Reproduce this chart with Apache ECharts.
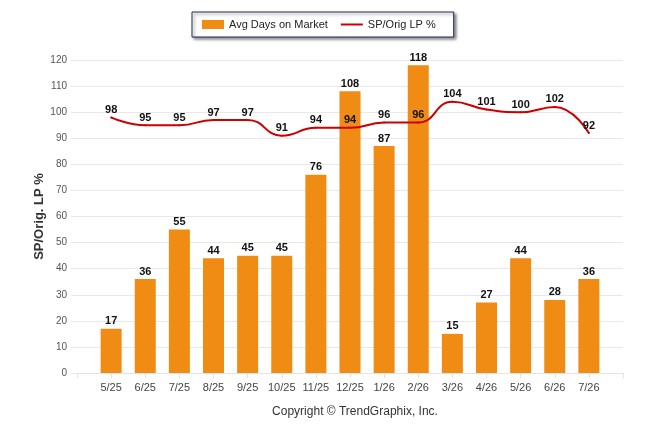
<!DOCTYPE html>
<html>
<head>
<meta charset="utf-8">
<script src="https://cdn.jsdelivr.net/npm/echarts@6/dist/echarts.min.js"></script>
<style>
  html, body { margin: 0; padding: 0; background: #fff; }
  #chartBox { width: 646px; height: 434px; }
</style>
</head>
<body>
<div id="chartBox"></div>
<script>
// months, with an empty slot at each end of the axis
var months = ['', '5/25', '6/25', '7/25', '8/25', '9/25', '10/25', '11/25', '12/25',
    '1/26', '2/26', '3/26', '4/26', '5/26', '6/26', '7/26', ''];
var avgDays = [null, 17, 36, 55, 44, 45, 45, 76, 108, 87, 118, 15, 27, 44, 28, 36, null];
var spOrigLp = [null, 98, 95, 95, 97, 97, 91, 94, 94, 96, 96, 104, 101, 100, 102, 92, null];
var yTicks = { min: 0, max: 120, interval: 10 };

function bindChart() {
    var chart = echarts.init(document.getElementById('chartBox'));
    chart.setOption(setOptionChart());
}

function setOptionChart() {
    var font = 'Liberation Sans, Arial, sans-serif';
    var option = {
        animation: false,
        textStyle: { fontFamily: font },
        title: {
            text: 'Copyright \u00A9 TrendGraphix, Inc.',
            left: 350,
            textAlign: 'center',
            top: 401,
            textStyle: { fontSize: 12, fontWeight: 'normal', color: '#333', fontFamily: font }
        },
        legend: {
            left: 192,
            top: 12,
            padding: [7, 18, 7, 10],
            itemGap: 13,
            itemWidth: 22,
            itemHeight: 9,
            borderColor: '#1c2d4e',
            borderWidth: 1,
            backgroundColor: '#fff',
            shadowColor: 'rgba(0,0,0,0.45)',
            shadowBlur: 3,
            shadowOffsetX: 2,
            shadowOffsetY: 2,
            textStyle: { fontSize: 11, color: '#222', fontFamily: font },
            data: [
                { name: 'Avg Days on Market', icon: 'rect' },
                { name: 'SP/Orig LP %', icon: 'path://M0,0 L22,0 L22,2 L0,2 Z', itemStyle: { color: '#cc0000' } }
            ]
        },
        grid: { left: 77, right: 23, top: 60, bottom: 61 },
        xAxis: {
            type: 'category',
            boundaryGap: false,
            data: months,
            axisLine: { lineStyle: { color: '#e3e3e3' } },
            axisTick: { length: 5, lineStyle: { color: '#e3e3e3' } },
            axisLabel: { color: '#444', fontSize: 11, margin: 9, interval: 0 }
        },
        yAxis: {
            type: 'value',
            min: yTicks.min,
            max: yTicks.max,
            interval: yTicks.interval,
            name: 'SP/Orig. LP %',
            nameLocation: 'middle',
            nameGap: 31,
            nameMoveOverlap: false,
            nameTextStyle: { fontSize: 13, fontWeight: 'bold', color: '#333' },
            axisLine: { show: false },
            axisTick: { show: true, length: 6, lineStyle: { color: '#e8e8e8' } },
            axisLabel: { color: '#555', fontSize: 10, margin: 10 },
            splitLine: { lineStyle: { color: '#e8e8e8' } }
        },
        series: [
            {
                name: 'Avg Days on Market',
                type: 'bar',
                data: avgDays,
                barWidth: 21,
                itemStyle: { color: '#f08c14' },
                label: {
                    show: true,
                    position: 'top',
                    distance: 2,
                    color: '#111',
                    fontSize: 11,
                    fontWeight: 'bold'
                }
            },
            {
                name: 'SP/Orig LP %',
                type: 'line',
                data: spOrigLp,
                smooth: 0.5,
                symbol: 'circle',
                symbolSize: 2,
                itemStyle: { color: '#cc0000' },
                lineStyle: { color: '#cc0000', width: 2 },
                label: {
                    show: true,
                    position: 'top',
                    distance: 1,
                    color: '#111',
                    fontSize: 11,
                    fontWeight: 'bold'
                },
                z: 3
            }
        ]
    };
    return option;
}

bindChart();
</script>
</body>
</html>
